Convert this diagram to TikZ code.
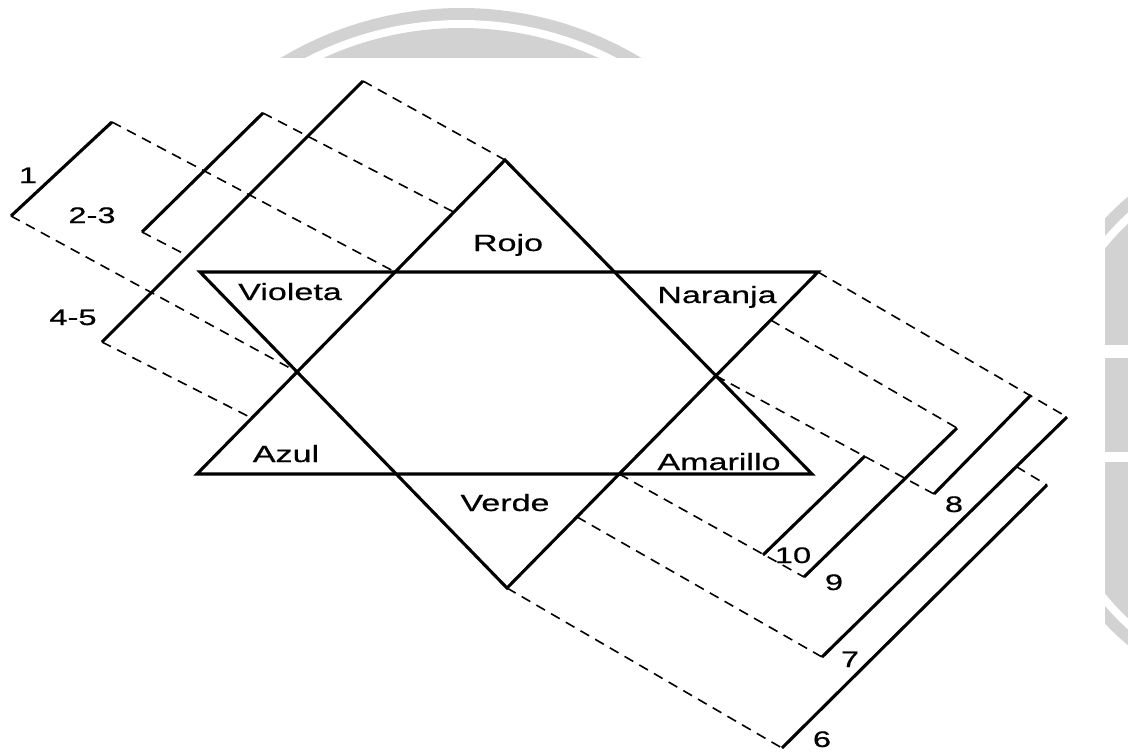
\documentclass[tikz,border=0pt]{standalone}
\usepackage{fontspec}
\setmainfont{Liberation Sans}[FakeStretch=1.45,FakeBold=0.6]
\usetikzlibrary{calc}
\definecolor{wmgray}{RGB}{210,210,210}
\begin{document}
\begin{tikzpicture}[x=1pt,y=-1pt,
  strk/.style={line width=3.1pt,line join=miter},
  proj/.style={line width=1.6pt,dash pattern=on 10pt off 7pt},
  lab/.style={font=\fontsize{23.5}{28}\selectfont,inner sep=0pt,anchor=base},
  num/.style={font=\fontsize{22.5}{27}\selectfont,inner sep=0pt,anchor=base}]
\useasboundingbox (0,0) rectangle (1128,753);
\fill[white] (0,0) rectangle (1128,753);
% faint background logos (watermark)
\begin{scope}
  \clip (0,0) rectangle (1128,57);
  \fill[wmgray] (461,358) circle (350pt);
  \fill[white] (461,358) circle (338pt);
  \fill[wmgray] (461,358) circle (330pt);
\end{scope}
\begin{scope}
  \clip (1105,0) rectangle (1128,753);
  \fill[wmgray] (1318,421) circle (294pt);
  \fill[white] (1318,421) circle (282pt);
  \fill[wmgray] (1318,421) circle (274pt);
  \fill[white] (1105,345) rectangle (1128,358);
  \fill[white] (1105,452) rectangle (1128,462);
\end{scope}
% star vertices
\coordinate (R) at (505,160);
\coordinate (UL) at (197,474);
\coordinate (UR) at (812,474);
\coordinate (DL) at (200,272);
\coordinate (DR) at (818,272);
\coordinate (V) at (507,588);
% intersections
\coordinate (P1) at (intersection of R--UL and DL--DR);
\coordinate (P2) at (intersection of R--UL and DL--V);
\coordinate (P3) at (intersection of R--UR and DR--V);
\coordinate (P4) at (intersection of DR--V and UL--UR);
\coordinate (Q0) at ($(R)!0.166!(UL)$);
\coordinate (Q5) at ($(R)!0.822!(UL)$);
\coordinate (Q1) at ($(DR)!0.152!(V)$);
\coordinate (Q2) at ($(DR)!0.775!(V)$);
% bracket ends
\coordinate (b1t) at (112,122);  \coordinate (b1b) at (11,216);
\coordinate (b23t) at (263,113); \coordinate (b23b) at (142,232);
\coordinate (b45t) at (363,81);  \coordinate (b45b) at (102,342);
\coordinate (b10t) at (865,456); \coordinate (b10b) at (763,555);
\coordinate (b9t) at (957,428);  \coordinate (b9b) at (804,577);
\coordinate (b8t) at (1031,395); \coordinate (b8b) at (934,494);
\coordinate (b7t) at (1067,417); \coordinate (b7b) at (822,657);
\coordinate (b6t) at (1047,485); \coordinate (b6b) at (782,748);
\coordinate (T23) at ($(b23b)+(100,52)$);
\coordinate (E23) at (intersection of b23b--T23 and b45b--b45t);
\coordinate (T6) at ($(b6t)+(-100,-60)$);
\coordinate (E6) at (intersection of b7t--b7b and b6t--T6);
% dashed projection lines
\draw[proj] (b45t) -- (R);
\draw[proj] (b23t) -- (Q0);
\draw[proj] (b1t) -- (P1);
\draw[proj] (b23b) -- (E23);
\draw[proj] (b1b) -- (P2);
\draw[proj] (b45b) -- (Q5);
\draw[proj] (DR) -- (b7t);
\draw[proj] (Q1) -- (b9t);
\draw[proj] (E6) -- (b6t);
\draw[proj] (P3) -- (b8b);
\draw[proj] (P4) -- (b9b);
\draw[proj] (Q2) -- (b7b);
\draw[proj] (V) -- (b6b);
% star
\draw[strk] (DL) -- (DR) -- (V) -- cycle;
\draw[strk] (R) -- (UR) -- (UL) -- cycle;
% brackets
\draw[strk] (b1b) -- (b1t);
\draw[strk] (b23b) -- (b23t);
\draw[strk] (b45b) -- (b45t);
\draw[strk] (b10b) -- (b10t);
\draw[strk] (b9b) -- (b9t);
\draw[strk] (b8b) -- (b8t);
\draw[strk] (b7b) -- (b7t);
\draw[strk] (b6b) -- (b6t);
% labels
\node[lab] (lRojo) at (508,251) {Rojo};
\node[lab] (lNaranja) at (717,303) {Naranja};
\node[lab] (lVioleta) at (290,300) {Violeta};
\node[lab] (lAmarillo) at (719,470) {Amarillo};
\node[lab] (lAzul) at (286,462) {Azul};
\node[lab] (lVerde) at (505,511) {Verde};
\node[num] (n1) at (28,183) {1};
\node[num] (n23) at (92,223) {2-3};
\node[num] (n45) at (73,325) {4-5};
\node[num] (n10) at (793,563) {10};
\node[num] (n9) at (834,590) {9};
\node[num] (n8) at (954,512) {8};
\node[num] (n7) at (850,667) {7};
\node[num] (n6) at (822,747) {6};
\end{tikzpicture}
\end{document}
